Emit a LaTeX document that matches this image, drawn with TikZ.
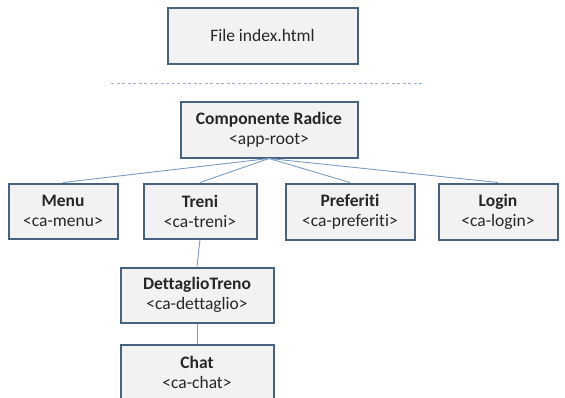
\documentclass[tikz,border=0pt]{standalone}
\usepackage{fontspec}
\setmainfont{Carlito}[Ligatures=NoCommon]
\usepackage{tikz}
\usetikzlibrary{positioning}
\definecolor{boxline}{HTML}{46627F}
\definecolor{boxfill}{HTML}{F2F2F2}
\definecolor{linkline}{HTML}{7C9CC4}
\definecolor{textgray}{HTML}{262626}

\tikzset{
  comp/.style={draw=boxline, line width=2pt, fill=boxfill, text=textgray,
    align=center, inner sep=0pt, font=\fontsize{17.5}{20}\selectfont},
  link/.style={draw=linkline, line width=0.9pt}
}

\begin{document}
\begin{tikzpicture}[x=1pt, y=-1pt]
        \useasboundingbox (0,0) rectangle (565,397);
        \clip (0,0) rectangle (565,397);
        % nodes
        \node[comp, minimum width=190pt, minimum height=56pt] (file) at (262.5, 35.5) {File index.html};
        \node[comp, minimum width=177pt, minimum height=56pt] (root) at (269, 129.5) {\textbf{Componente Radice}\\<app-root>};
        \node[comp, minimum width=109pt, minimum height=55pt] (root-1) at (63, 211) {\textbf{Menu}\\<ca-menu>};
        \node[comp, minimum width=113pt, minimum height=55pt] (root-2) at (200, 211) {\textbf{Treni}\\<ca-treni>};
        \node[comp, minimum width=129pt, minimum height=56pt] (root-3) at (350, 211.5) {\textbf{Preferiti}\\<ca-preferiti>};
        \node[comp, minimum width=119pt, minimum height=56pt] (root-4) at (498, 211.5) {\textbf{Login}\\<ca-login>};
        \node[comp, minimum width=153pt, minimum height=55pt] (root-2-1) at (197, 295) {\textbf{DettaglioTreno}\\<ca-dettaglio>};
        \node[comp, minimum width=153pt, minimum height=55pt] (root-2-1-1) at (197, 372.5) {\textbf{Chat}\\<ca-chat>};
        \coordinate (sepl) at (111, 83);
        \coordinate (sepr) at (422, 83);
        % lines
        \draw[draw=linkline!80, line width=0.8pt, dash pattern=on 3pt off 2.5pt] (sepl) -- (sepr);
        \draw[link] (root.south) -- (root-1.north);
        \draw[link] (root.south) -- (root-2.north);
        \draw[link] (root.south) -- (root-3.north);
        \draw[link] (root.south) -- (root-4.north);
        \draw[link] (root-2.south) -- (root-2-1.north);
        \draw[link] (root-2-1.south) -- (root-2-1-1.north);
\end{tikzpicture}
\end{document}
